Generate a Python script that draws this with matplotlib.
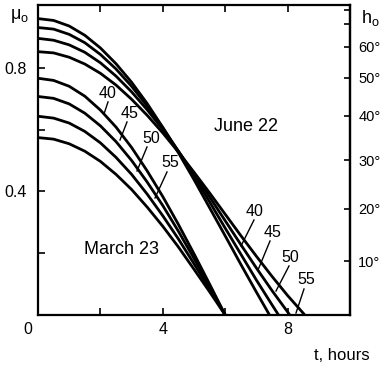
import numpy as np
import matplotlib
matplotlib.use("Agg")
import matplotlib.pyplot as plt
from matplotlib.transforms import ScaledTranslation

plt.rcParams['font.family'] = ['Liberation Sans', 'DejaVu Sans']
plt.rcParams['mathtext.fontset'] = 'custom'
plt.rcParams['mathtext.rm'] = 'Liberation Sans'

# ---- data ----
latitudes = [40, 45, 50, 55]

# March 23
t_march = [0, 0.5, 1, 1.5, 2, 2.5, 3, 3.5, 4, 4.5, 5, 5.5, 6]
mu_march_40 = [0.766, 0.759, 0.740, 0.708, 0.663, 0.608, 0.542, 0.466, 0.383, 0.293, 0.198, 0.100, 0.0]
mu_march_45 = [0.707, 0.701, 0.683, 0.653, 0.612, 0.561, 0.500, 0.430, 0.354, 0.271, 0.183, 0.092, 0.0]
mu_march_50 = [0.643, 0.637, 0.621, 0.594, 0.557, 0.510, 0.455, 0.391, 0.321, 0.246, 0.166, 0.084, 0.0]
mu_march_55 = [0.574, 0.569, 0.554, 0.530, 0.497, 0.455, 0.406, 0.349, 0.287, 0.220, 0.148, 0.075, 0.0]

# June 22
t_june_40 = [0, 0.5, 1, 1.5, 2, 2.5, 3, 3.5, 4, 4.5, 5, 5.5, 6, 6.5, 7, 7.42]
mu_june_40 = [0.959, 0.953, 0.935, 0.905, 0.864, 0.813, 0.753, 0.684, 0.607, 0.525, 0.438, 0.347, 0.256, 0.164, 0.074, 0.0]
t_june_45 = [0, 0.5, 1, 1.5, 2, 2.5, 3, 3.5, 4, 4.5, 5, 5.5, 6, 6.5, 7, 7.5, 7.71]
mu_june_45 = [0.930, 0.925, 0.908, 0.881, 0.843, 0.796, 0.740, 0.676, 0.606, 0.530, 0.449, 0.366, 0.281, 0.197, 0.113, 0.033, 0.0]
t_june_50 = [0, 0.5, 1, 1.5, 2, 2.5, 3, 3.5, 4, 4.5, 5, 5.5, 6, 6.5, 7, 7.5, 8, 8.07]
mu_june_50 = [0.895, 0.889, 0.874, 0.850, 0.816, 0.773, 0.722, 0.664, 0.600, 0.530, 0.457, 0.382, 0.305, 0.228, 0.152, 0.079, 0.010, 0.0]
t_june_55 = [0, 0.5, 1, 1.5, 2, 2.5, 3, 3.5, 4, 4.5, 5, 5.5, 6, 6.5, 7, 7.5, 8, 8.5, 8.55]
mu_june_55 = [0.852, 0.848, 0.834, 0.812, 0.782, 0.744, 0.698, 0.646, 0.589, 0.527, 0.462, 0.395, 0.326, 0.257, 0.190, 0.125, 0.063, 0.006, 0.0]

x_ticks = [0, 2, 4, 6, 8, 10]
x_ticklabels = ['0', '', '4', '', '8', '']
y_ticks = [0.2, 0.4, 0.6, 0.8]
y_ticklabels = ['', '0.4', '', '0.8']
h_ticks = [10, 20, 30, 40, 50, 60, 70, 80]
h_ticklabels = ['10°', '20°', '30°', '40°', '50°', '60°', '', '']

# ---- figure ----
fig = plt.figure(figsize=(3.83, 3.65), dpi=100)
ax = fig.add_axes([38/383, 1-315/365, 312/383, 310/365])

lw = 2.0
march = [mu_march_40, mu_march_45, mu_march_50, mu_march_55]
for mu in march:
    ax.plot(t_march, mu, color='black', lw=lw, solid_capstyle='butt', solid_joinstyle='round')
june_t = [t_june_40, t_june_45, t_june_50, t_june_55]
june_mu = [mu_june_40, mu_june_45, mu_june_50, mu_june_55]
for t, mu in zip(june_t, june_mu):
    ax.plot(t, mu, color='black', lw=lw, solid_capstyle='butt', solid_joinstyle='round')

ax.set_xlim(0, 10)
ax.set_ylim(0, 1.003)

def px(x, y):
    return ((x - 38) / 31.2, (315 - y) / 309)

# curve labels with leader lines: (label px center, leader start px, leader end px)
march_lbl = [((108, 94), (108, 102), (104, 114)),
             ((130, 114), (127, 122), (120, 140)),
             ((151, 139), (147, 147), (137, 171)),
             ((170, 163), (167, 172), (155, 198))]
june_lbl = [((255, 212), (254, 220), (241, 246)),
            ((273, 233), (270, 241), (258, 270)),
            ((290, 258), (289, 266), (276, 291)),
            ((306, 280), (304, 289), (296, 313))]
for lbls in (march_lbl, june_lbl):
    for lat, (c, s, e) in zip(latitudes, lbls):
        ax.text(*px(*c), str(lat), fontsize=11.5, ha='center', va='center')
        (x0, y0), (x1, y1) = px(*s), px(*e)
        ax.plot([x0, x1], [y0, y1], color='black', lw=1.0)

ax.text(*px(122, 250), 'March 23', fontsize=13, ha='center', va='center')
ax.text(*px(246, 127), 'June 22', fontsize=13, ha='center', va='center')

# axes styling
for sp in ax.spines.values():
    sp.set_linewidth(1.6)
ax.set_xticks(x_ticks)
ax.set_xticklabels(x_ticklabels, fontsize=11.5)
ax.set_yticks(y_ticks)
ax.set_yticklabels(y_ticklabels, fontsize=11.5)
ax.tick_params(axis='x', direction='in', length=5, width=1.2, pad=5, top=True)
ax.tick_params(axis='y', direction='in', length=5, width=1.2, pad=8, right=False)
# shift the "0" label to the left
lbl0 = ax.get_xticklabels()[0]
lbl0.set_transform(lbl0.get_transform() + ScaledTranslation(-10/100, 0, fig.dpi_scale_trans))

sec = ax.secondary_yaxis('right',
                         functions=(lambda m: np.degrees(np.arcsin(np.clip(m, -1, 1))),
                                    lambda h: np.sin(np.radians(h))))
sec.set_yticks(h_ticks)
sec.set_yticklabels(h_ticklabels, fontsize=10.5)
sec.tick_params(direction='in', length=4, width=1.2, pad=6)
sec.spines['right'].set_linewidth(1.6)

fig.text(20/383, 1-16/365, 'μ$_\\mathrm{o}$', fontsize=13, ha='center', va='center')
fig.text(370/383, 1-18/365, 'h$_\\mathrm{o}$', fontsize=13, ha='center', va='center')
fig.text(342/383, 1-356/365, 't, hours', fontsize=12, ha='center', va='center')

fig.savefig('out.png', dpi=100)
